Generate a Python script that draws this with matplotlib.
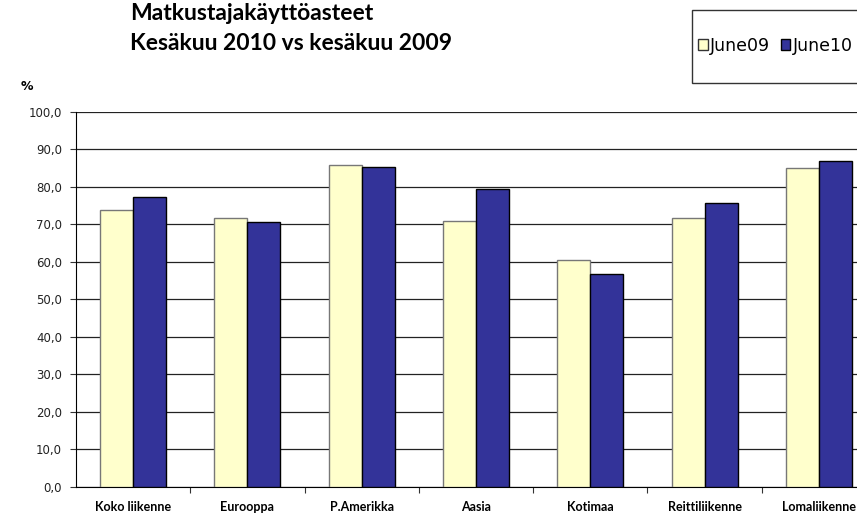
import matplotlib
matplotlib.use("Agg")
import matplotlib.pyplot as plt
import numpy as np
from matplotlib.patches import Patch, Rectangle

categories = ["Koko liikenne", "Eurooppa", "P.Amerikka", "Aasia", "Kotimaa", "Reittiliikenne", "Lomaliikenne"]
june09 = [73.9, 71.7, 85.9, 70.8, 60.6, 71.8, 85.0]
june10 = [77.3, 70.5, 85.4, 79.5, 56.7, 75.7, 86.8]
yticks = [0, 10, 20, 30, 40, 50, 60, 70, 80, 90, 100]
ytick_labels = ["0,0", "10,0", "20,0", "30,0", "40,0", "50,0", "60,0", "70,0", "80,0", "90,0", "100,0"]

W, H = 857, 516
fig = plt.figure(figsize=(W / 100, H / 100), dpi=100)
ax = fig.add_axes([76 / W, (H - 486.8) / H, 800 / W, 375 / H])

x = np.arange(len(categories))
bw = 33 / 114.3
ax.bar(x - bw / 2, june09, width=bw, color="#FFFFCC", edgecolor="#777777", linewidth=1.0, zorder=3)
ax.bar(x + bw / 2, june10, width=bw, color="#333399", edgecolor="#000000", linewidth=1.0, zorder=3)

ax.set_xlim(-0.5, len(categories) - 0.5)
ax.set_ylim(0, 100)
ax.set_yticks(yticks)
ax.set_yticklabels(ytick_labels, fontsize=8.5, family="DejaVu Sans", color="#222222")
ax.yaxis.grid(True, color="#222222", linewidth=0.9, zorder=0)
ax.set_axisbelow(True)

ax.set_xticks(np.arange(len(categories) - 1) + 0.5, minor=False)
ax.set_xticklabels([])
ax.set_xticks(x, minor=True)
ax.set_xticklabels(categories, minor=True, fontsize=9, fontweight="bold", family="Lato")
ax.tick_params(axis="x", which="major", direction="out", length=4, color="#333333")
ax.tick_params(axis="x", which="minor", length=0, pad=10)
ax.tick_params(axis="y", direction="out", length=4, color="#333333", pad=6)

for s in ["top", "right"]:
    ax.spines[s].set_visible(False)
ax.spines["left"].set_color("#000000")
ax.spines["bottom"].set_color("#000000")

fig.text(130 / W, 1 - 13 / H, "Matkustajakäyttöasteet", fontsize=16.5, fontweight="bold",
         family="Lato", va="center", ha="left")
fig.text(130 / W, 1 - 43 / H, "Kesäkuu 2010 vs kesäkuu 2009", fontsize=16.5, fontweight="bold",
         family="Lato", va="center", ha="left")
fig.text(21 / W, 1 - 87 / H, "%", fontsize=9, fontweight="bold", family="DejaVu Sans",
         va="center", ha="left")

# legend box
fig.patches.append(Rectangle((692 / W, 1 - 83 / H), 200 / W, 73 / H, transform=fig.transFigure,
                             facecolor="white", edgecolor="#333333", linewidth=1.0, zorder=5))
handles = [Patch(facecolor="#FFFFCC", edgecolor="#333333", label="June09"),
           Patch(facecolor="#333399", edgecolor="#000000", label="June10")]
leg = fig.legend(handles=handles, loc="center left", bbox_to_anchor=(698 / W, 1 - 46 / H),
                 ncol=2, frameon=False, prop={"family": "DejaVu Sans", "size": 12.5},
                 handlelength=0.55, handleheight=0.6, handletextpad=0.15, columnspacing=0.6,
                 borderpad=0, borderaxespad=0)
leg.set_zorder(6)

fig.savefig("out.png", dpi=100)
